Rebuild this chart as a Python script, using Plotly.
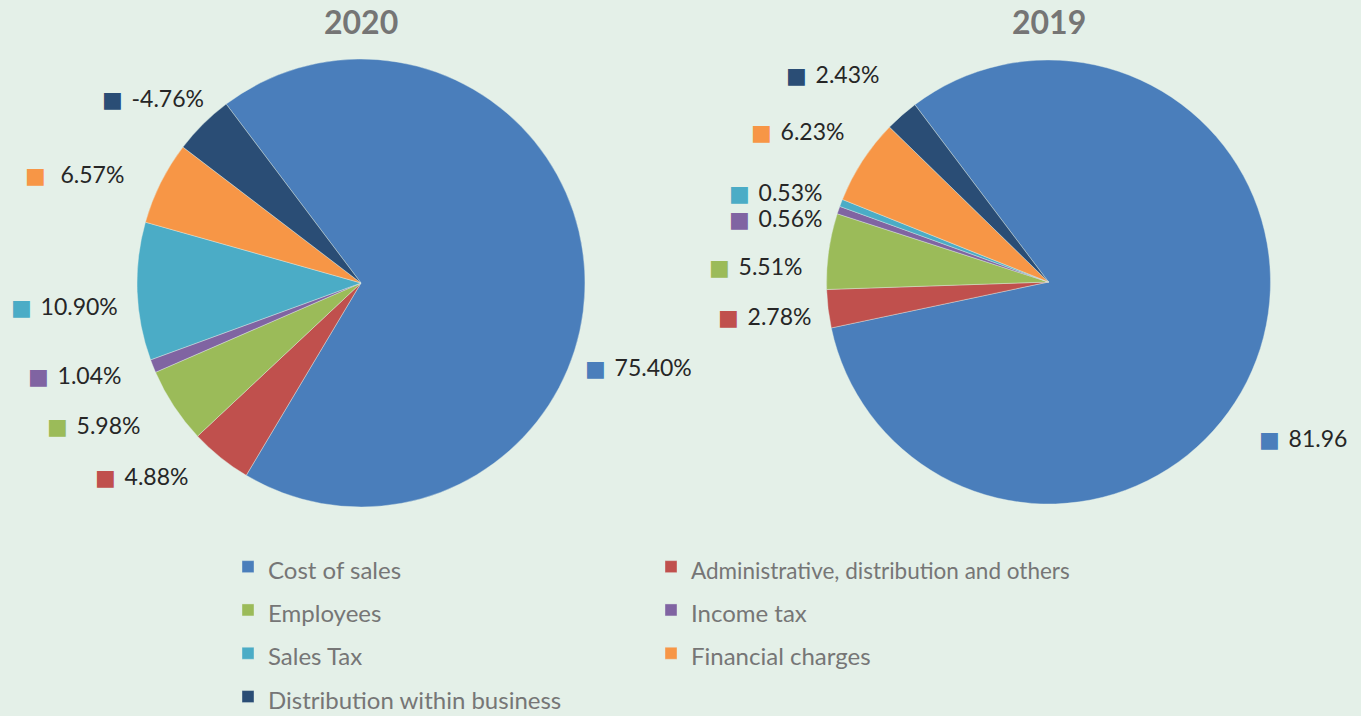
import plotly.graph_objects as go

# ---------------- data ----------------
categories = ["Cost of sales", "Administrative, distribution and others", "Employees",
              "Income tax", "Sales Tax", "Financial charges", "Distribution within business"]
values_2020 = [75.40, 4.88, 5.98, 1.04, 10.90, 6.57, 4.76]
values_2019 = [81.96, 2.78, 5.51, 0.56, 0.53, 6.23, 2.43]
labels_2020 = ["75.40%", "4.88%", "5.98%", "1.04%", "10.90%", " 6.57%", "-4.76%"]
labels_2019 = ["81.96", "2.78%", "5.51%", "0.56%", "0.53%", "6.23%", "2.43%"]
years = ["2020", "2019"]

colors = ["#4A7EBB", "#C0504D", "#9BBB59", "#8064A2", "#4BACC6", "#F79646", "#2A4D75"]
BG = "#E4F0E8"

# ---------------- layout geometry (pixels) ----------------
W, H = 1361, 716
ML, MR, MT, MB = 130, 80, 50, 200
PW, PH = W - ML - MR, H - MT - MB


def px_x(x):
    return (x - ML) / PW


def px_y(y):
    return (H - MB - y) / PH


pies = [  # centre x, centre y, radius (pixels)
    (361, 283, 224),
    (1048.5, 282, 222),
]

# label anchor positions (left edge of marker square, vertical centre), pixels
label_pos_2020 = [(585, 367), (95, 476), (47, 425), (28, 375), (11, 306), (25, 174), (102, 98)]
label_pos_2019 = [(1259, 438), (718, 316), (709, 266), (729, 218), (729, 192), (751, 131), (786, 74)]


def legend_label(c):
    size = 22.5 if len(c) > 30 else 24
    return f"<span style='font-size:{size}px'>{c}</span>"


fig = go.Figure()
for i, (vals, yr) in enumerate(zip([values_2020, values_2019], years)):
    cx, cy, r = pies[i]
    fig.add_trace(go.Pie(
        labels=[legend_label(c) for c in categories],
        values=vals,
        name=yr,
        sort=False,
        direction="clockwise",
        rotation=-37,
        marker=dict(colors=colors, line=dict(color=BG, width=0.4)),
        textinfo="none",
        hoverinfo="label+value",
        domain=dict(x=[px_x(cx - r), px_x(cx + r)], y=[px_y(cy + r), px_y(cy - r)]),
    ))

annotations = []
for i, yr in enumerate(years):
    cx, cy, r = pies[i]
    annotations.append(dict(
        text=f"<b>{yr}</b>", x=px_x(cx), y=px_y(22), xref="paper", yref="paper",
        xanchor="center", yanchor="middle", showarrow=False,
        font=dict(family="Lato", size=32, color="#757575")))

for labs, poss in [(labels_2020, label_pos_2020), (labels_2019, label_pos_2019)]:
    for lab, (x, y), col in zip(labs, poss, colors):
        annotations.append(dict(
            text=f"<span style='color:{col};font-family:DejaVu Sans;font-size:22px'>■</span>\u2009 {lab}",
            x=px_x(x - 2), y=px_y(y), xref="paper", yref="paper",
            xanchor="left", yanchor="middle", showarrow=False,
            font=dict(family="Lato", size=23, color="#262626")))

fig.update_layout(
    width=W, height=H,
    margin=dict(l=ML, r=MR, t=MT, b=MB, autoexpand=False),
    paper_bgcolor=BG, plot_bgcolor=BG,
    showlegend=True,
    legend=dict(
        orientation="h", x=px_x(228), y=px_y(540), xanchor="left", yanchor="top",
        entrywidth=378, entrywidthmode="pixels",
        font=dict(family="Lato", size=31, color="#767676"),
        bgcolor="rgba(0,0,0,0)", traceorder="normal",
    ),
    annotations=annotations,
    font=dict(family="Lato"),
)

fig.write_html(
    "out.html",
    config={"displayModeBar": False},
    post_script="document.body.style.margin='0';document.body.style.overflow='hidden';"
                "document.body.style.background='" + BG + "';",
)
